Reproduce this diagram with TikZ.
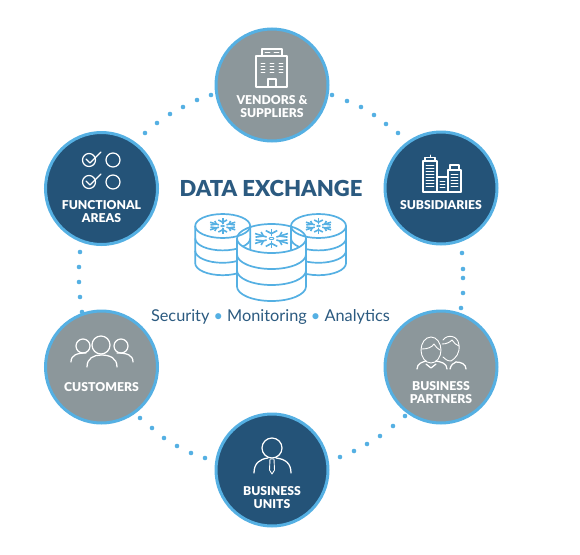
\documentclass[tikz,border=0pt]{standalone}
\usepackage{fontspec}
\setmainfont{Lato}
\newfontfamily\heavyfont[UprightFont=* Black,BoldFont=* Black]{Lato}
\definecolor{navy}{HTML}{245378}
\definecolor{stone}{HTML}{8C979B}
\definecolor{ring}{HTML}{55B0E3}
\definecolor{titleblue}{HTML}{2B5A80}
\newcommand{\flakeicon}[3]{%
  \begin{scope}[shift={(#1,#2)},yscale=0.52,scale=#3]
    \foreach \a in {30,90,150,210,270,330}{
      \begin{scope}[rotate=\a]
        \draw[flakeline] (0.3,0) -- (1,0);
        \draw[flakeline] (0.5,0) -- (0.8,0.3) (0.5,0) -- (0.8,-0.3);
      \end{scope}
    }
    \draw[ring,line width=0.9pt] (0,0) circle (0.12);
  \end{scope}}
\newcommand{\drumicon}[6]{% x, top ellipse y, rx, ry, layer step, name
  \begin{scope}[shift={(#1,#2)}]
    \path[fill=white] (-#3,0) -- (-#3,3*#5) arc[start angle=180,end angle=360,x radius=#3,y radius=-#4] -- (#3,0) arc[start angle=0,end angle=180,x radius=#3,y radius=#4] -- cycle;
    \draw[drumline] (-#3,0) -- (-#3,3*#5) arc[start angle=180,end angle=360,x radius=#3,y radius=-#4] -- (#3,0);
    \draw[drumline] (0,0) ellipse[x radius=#3,y radius=#4];
    \draw[drumline] (-#3,#5) arc[start angle=180,end angle=360,x radius=#3,y radius=-#4];
    \draw[drumline] (-#3,2*#5) arc[start angle=180,end angle=360,x radius=#3,y radius=-#4];
  \end{scope}}
\begin{document}
\begin{tikzpicture}[x=1pt,y=-1pt,
  hub/.style={circle,minimum size=112pt,inner sep=0pt,outer sep=0pt,draw=ring,line width=3pt},
  hubdark/.style={hub,fill=navy},
  hubgray/.style={hub,fill=stone},
  hublabel/.style={text=white,align=center,font=\fontsize{12.2}{13}\selectfont\heavyfont,inner sep=0pt},
  iconline/.style={draw=white,line width=1.25pt,line cap=round,line join=round,fill=none},
  thinline/.style={draw=white,line width=0.9pt,line cap=round,line join=round,fill=none},
  dotmark/.style={fill=ring},
  drumline/.style={draw=ring,line width=1.7pt,line join=round},
  flakeline/.style={draw=ring,line width=1.6pt},
]
\useasboundingbox (0,0) rectangle (580,554);
\fill[white] (0,0) rectangle (580,554);

% dotted rings between the hubs
\foreach \p/\q in {145/133,157/123,170/114,183/107,197/100,211/95,
  332/95,347/101,361/107,374/115,386/124,398/133,
  80/252,79/267,79/282,80/297,82/312,
  462/253,463/269,463/278,463/293,461/308,
  140/418,152/428,164/438,177/446,191/453,205/458,
  340/457,354/451,367/444,380/436,393/426,405/416}
  \fill[dotmark] (\p,\q) circle (2.3);

% hubs
\node[hubgray] (vendors) at (272,85) {};
\node[hubdark] (functional) at (101.5,188.5) {};
\node[hubdark] (subsidiaries) at (441,188) {};
\node[hubgray] (customers) at (101.5,367) {};
\node[hubgray] (partners) at (441,367) {};
\node[hubdark] (units) at (272,470) {};

% hub labels
\node[hublabel] (vendorsText) at (272,106.5) {VENDORS \&\\SUPPLIERS};
\node[hublabel] (functionalText) at (101.5,211.5) {FUNCTIONAL\\AREAS};
\node[hublabel] (subsidiariesText) at (441,205) {SUBSIDIARIES};
\node[hublabel] (customersText) at (101.5,387) {CUSTOMERS};
\node[hublabel] (partnersText) at (441,392.5) {BUSINESS\\PARTNERS};
\node[hublabel] (unitsText) at (272,497.5) {BUSINESS\\UNITS};

% building icon
\draw[iconline] (256,56) rectangle (287,87);
\draw[iconline] (262,49) rectangle (282,56);
\draw[thinline] (265,52.5) -- (270,52.5) (274,52.5) -- (279,52.5);
\foreach \cx in {263,272,281}
  \foreach \cy in {63,66,69,72}
    \draw[thinline] (\cx-2,\cy) -- (\cx+2,\cy);
\draw[iconline] (268,87) -- (268,79) -- (276,79) -- (276,87);

% check list icon
\foreach \cy in {160,182}{
  \draw[iconline] (113,\cy) circle (7);
  \draw[iconline] (89,\cy) circle (6.5);
  \draw[iconline] (86,\cy-1) -- (90,\cy+3) -- (101,\cy-8);
}

% towers icon
\draw[iconline] (423,192) -- (423,161) -- (437,161) -- (437,192);
\draw[iconline] (425,161) -- (425,157.5) -- (435,157.5) -- (435,161);
\draw[thinline] (430,157.5) -- (430,155);
\draw[iconline] (437,177) -- (448,177);
\draw[iconline] (448,192) -- (448,170) -- (461,170) -- (461,192);
\draw[iconline] (450,170) -- (450,165) -- (459,165) -- (459,170);
\draw[iconline] (423,192) -- (461,192);
\foreach \cy in {165,168,171,174,177,180,183,186}
  \draw[thinline] (426,\cy) -- (434,\cy);
\foreach \cy in {174,177,180,183,186}
  \draw[thinline] (451,\cy) -- (458,\cy);
\foreach \cy in {181,184,187}
  \draw[thinline] (440,\cy) -- (445,\cy);

% people icon
\draw[iconline] (101,345) circle (9);
\draw[iconline] (83,346) circle (7);
\draw[iconline] (121,346) circle (7);
\draw[iconline] (87,367) .. controls (87,358) and (94,355) .. (101,355) .. controls (110,355) and (117,358) .. (117,367);
\draw[iconline] (71,362) .. controls (71,355) and (77,353) .. (86,353);
\draw[iconline] (133,362) .. controls (133,355) and (127,353) .. (117,353);

% partners icon
\draw[thinline] (431,350) ellipse[x radius=10,y radius=13];
\draw[thinline] (422,349) .. controls (428,349) and (432,347) .. (434,344) .. controls (436,347) and (438,349) .. (440,350);
\draw[thinline] (443,340) .. controls (447,334) and (458,335) .. (459,345) .. controls (460,353) and (456,358) .. (451,361) .. controls (447,361) and (445,359) .. (443,357);
\draw[thinline] (442,344) .. controls (447,344) and (450,342) .. (452,340) .. controls (454,343) and (456,345) .. (459,346);
\draw[iconline] (417,369) .. controls (417,363) and (423,362) .. (426,361);
\draw[iconline] (426,364) -- (431,368) -- (436,364);
\draw[iconline] (436,361) .. controls (441,362) and (447,363) .. (447,369);
\draw[iconline] (450,369) .. controls (451,365) and (453,363) .. (456,362);
\draw[iconline] (456,362) .. controls (461,362) and (466,364) .. (466,369);

% person with tie icon
\draw[iconline] (272,448) circle (10);
\draw[iconline] (254,473) .. controls (254,463) and (260,459) .. (268,458);
\draw[iconline] (291,473) .. controls (291,463) and (285,459) .. (276,458);
\draw[thinline] (270,459) -- (274,459) -- (274.5,470) -- (272,474) -- (269.5,470) -- cycle;

% centre
\node[text=titleblue,font=\fontsize{22}{24}\selectfont\heavyfont,inner sep=0pt] (title) at (271,188) {DATA EXCHANGE};
\drumicon{222.7}{226}{27.5}{12}{12.4}{left}
\drumicon{318.5}{226}{27.5}{12}{12.4}{right}
\flakeicon{222.7}{226}{14.5}
\flakeicon{318.5}{226}{14.5}
\drumicon{271.5}{238.5}{34.5}{14.5}{16}{front}
\flakeicon{271.5}{238.5}{19}
\node[text=titleblue,font=\fontsize{16.3}{19}\selectfont,inner sep=0pt] (subtitle) at (270.5,316.5) {Security \textcolor{ring}{•} Monitoring \textcolor{ring}{•} Analytics};
\end{tikzpicture}
\end{document}
